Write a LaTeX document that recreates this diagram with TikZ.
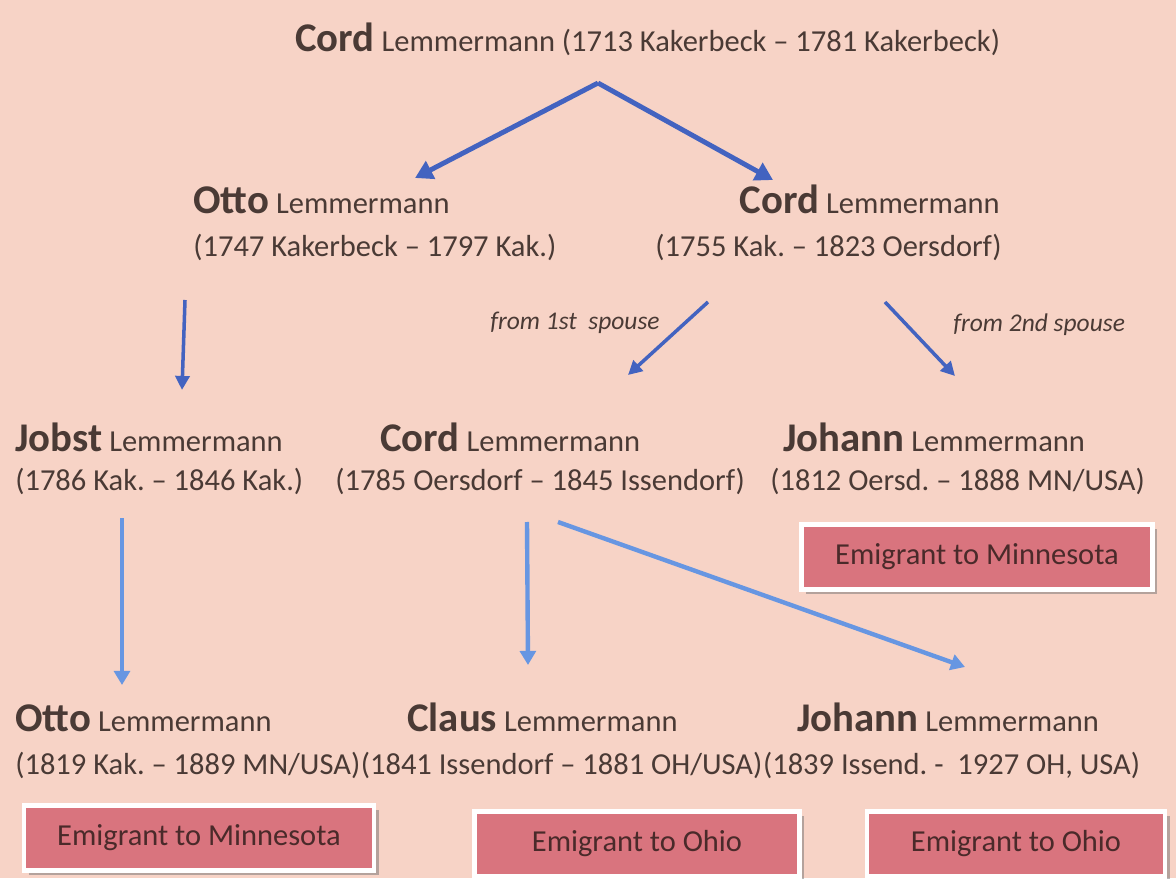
\documentclass[tikz,border=0pt]{standalone}
\usepackage{fontspec}
\setmainfont{Carlito}
\usetikzlibrary{arrows.meta,shadows}
\definecolor{bgpink}{HTML}{F7D3C6}
\definecolor{ink}{HTML}{4A3A35}
\definecolor{boxred}{HTML}{D9747E}
\definecolor{boxink}{HTML}{4A2A2A}
\definecolor{darkblue}{HTML}{4363C0}
\definecolor{lightblue}{HTML}{6796E2}
\newcommand{\given}[1]{{\fontsize{23.2}{28}\selectfont\bfseries #1}}
\frenchspacing

\begin{document}
\begin{tikzpicture}[x=0.02cm,y=-0.02cm,
  txt/.style={inner sep=0pt,text=ink,font=\fontsize{17.35}{21}\selectfont},
  note/.style={inner sep=0pt,text=ink,font=\fontsize{14.5}{18}\selectfont\itshape},
  emig/.style={draw=white,line width=2.4pt,fill=boxred,text=boxink,
    font=\fontsize{17.35}{21}\selectfont,minimum height=1.3cm,
    drop shadow={shadow xshift=2.6pt,shadow yshift=-2.6pt,fill=black!55}},
  bigarr/.style={draw=darkblue,line width=2.8pt,-{Triangle[width=11pt,length=10pt]}},
  darr/.style={draw=darkblue,line width=2pt,-{Triangle[width=8pt,length=8pt]}},
  larr/.style={draw=lightblue,line width=2.5pt,-{Triangle[width=9pt,length=8pt]}}]
\fill[bgpink] (0,0) rectangle (1176,878);
% generation 1
\node[txt,anchor=base west] (c1) at (295,52) {\given{Cord} Lemmermann (1713 Kakerbeck -- 1781 Kakerbeck)};
% generation 2
\node[txt,anchor=base west] (o2) at (193,214) {\given{Otto} Lemmermann};
\node[txt,anchor=base west] (o2d) at (193,257) {(1747 Kakerbeck -- 1797 Kak.)};
\node[txt,anchor=base east] (c2) at (1000,214) {\given{Cord} Lemmermann};
\node[txt,anchor=base east] (c2d) at (1002,257) {(1755 Kak. -- 1823 Oersdorf)};
\node[note,anchor=base west] (s1) at (490,330) {from 1st\ \ spouse};
\node[note,anchor=base west] (s2) at (953,332) {from 2nd spouse};
% generation 3
\node[txt,anchor=base west] (j3) at (15,452) {\given{Jobst} Lemmermann};
\node[txt,anchor=base west] (j3d) at (15,490) {(1786 Kak. -- 1846 Kak.)};
\node[txt,anchor=base west] (c3) at (380,452) {\given{Cord} Lemmermann};
\node[txt,anchor=base west] (c3d) at (335,490) {(1785 Oersdorf -- 1845 Issendorf)};
\node[txt,anchor=base west] (h3) at (783,452) {\given{Johann} Lemmermann};
\node[txt,anchor=base west] (h3d) at (770,490) {(1812 Oersd. -- 1888 MN/USA)};
\node[emig,minimum width=7.02cm] (e3) at (977,557) {Emigrant to Minnesota};
% generation 4
\node[txt,anchor=base west] (o4) at (15,731) {\given{Otto} Lemmermann};
\node[txt,anchor=base west] (o4d) at (15,774) {(1819 Kak. -- 1889 MN/USA)};
\node[txt,anchor=base west] (k4) at (407,731) {\given{Claus} Lemmermann};
\node[txt,anchor=base west] (k4d) at (o4d.base east) {(1841 Issendorf -- 1881 OH/USA)};
\node[txt,anchor=base west] (h4) at (797,731) {\given{Johann} Lemmermann};
\node[txt,anchor=base west] (h4d) at (k4d.base east) {(1839 Issend. -\ \ 1927 OH, USA)};
\node[emig,minimum width=7.0cm] (e4a) at (199,838) {Emigrant to Minnesota};
\node[emig,minimum width=6.5cm] (e4b) at (637,844) {Emigrant to Ohio};
\node[emig,minimum width=5.96cm] (e4c) at (1016,844) {Emigrant to Ohio};
% arrow ends
\coordinate (top) at (598,83);
\coordinate (toO2) at (415,178);
\coordinate (toC2) at (773,180);
\coordinate (fromO2) at (185,300);
\coordinate (toJ3) at (182,390);
\coordinate (fromC2a) at (708,302);
\coordinate (toC3) at (628,375);
\coordinate (fromC2b) at (885,302);
\coordinate (toH3) at (955,376);
\coordinate (fromJ3) at (122,518);
\coordinate (toO4) at (122,685);
\coordinate (fromC3a) at (527,522);
\coordinate (toK4) at (528,665);
\coordinate (fromC3b) at (558,522);
\coordinate (toH4) at (965,667);
\path[bigarr] (top) -- (toO2);
\path[bigarr] (top) -- (toC2);
\path[darr] (fromO2) -- (toJ3);
\path[darr] (fromC2a) -- (toC3);
\path[darr] (fromC2b) -- (toH3);
\path[larr] (fromJ3) -- (toO4);
\path[larr] (fromC3a) -- (toK4);
\path[larr] (fromC3b) -- (toH4);
\end{tikzpicture}
\end{document}
